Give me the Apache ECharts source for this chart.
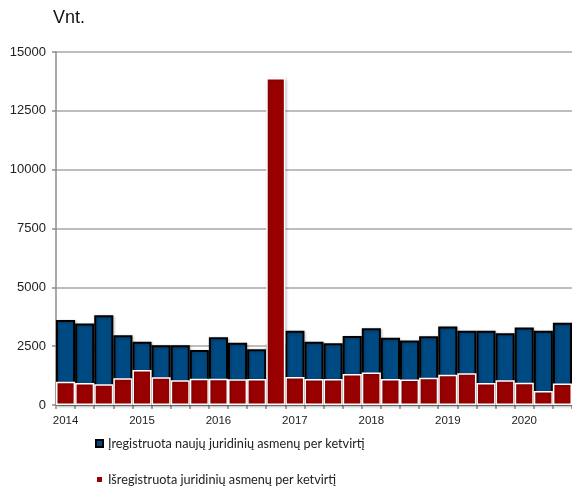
<!DOCTYPE html>
<html>
<head>
<meta charset="utf-8">
<script src="https://cdn.jsdelivr.net/npm/echarts@6/dist/echarts.min.js"></script>
<style>
html,body{margin:0;padding:0;background:#fff;}
#c{width:572px;height:488px;}
</style>
</head>
<body>
<div id="c"></div>
<script>
const quarters = [
  '2014 Q1','2014 Q2','2014 Q3','2014 Q4',
  '2015 Q1','2015 Q2','2015 Q3','2015 Q4',
  '2016 Q1','2016 Q2','2016 Q3','2016 Q4',
  '2017 Q1','2017 Q2','2017 Q3','2017 Q4',
  '2018 Q1','2018 Q2','2018 Q3','2018 Q4',
  '2019 Q1','2019 Q2','2019 Q3','2019 Q4',
  '2020 Q1','2020 Q2','2020 Q3'
];
const registered = [3610, 3460, 3810, 2960, 2690, 2540, 2540, 2340, 2880, 2650, 2370, 2600,
  3160, 2690, 2620, 2930, 3260, 2860, 2740, 2920, 3340, 3150, 3160, 3050, 3290, 3150, 3500];
const deregistered = [990, 940, 880, 1140, 1490, 1180, 1050, 1120, 1120, 1090, 1110, 13900,
  1190, 1110, 1110, 1320, 1380, 1110, 1080, 1160, 1290, 1350, 940, 1050, 950, 600, 910];
const seriesNames = ['Įregistruota naujų juridinių asmenų per ketvirtį', 'Išregistruota juridinių asmenų per ketvirtį'];
const unitLabel = 'Vnt.';

const legendText = {fontFamily: 'Lato', fontSize: 12.7, color: '#222'};
const chart = echarts.init(document.getElementById('c'), null, {renderer: 'canvas'});
chart.setOption({
  animation: false,
  backgroundColor: '#ffffff',
  title: {
    text: unitLabel, left: 48, top: 4,
    textStyle: {fontFamily: 'Liberation Sans', fontSize: 18, fontWeight: 'normal', color: '#111'}
  },
  legend: [
    {data: [seriesNames[0]], left: 90, top: 432, icon: 'rect', itemWidth: 7, itemHeight: 7,
      itemTextGap: 4, textStyle: legendText},
    {data: [seriesNames[1]], left: 90, top: 468, icon: 'rect', itemWidth: 7, itemHeight: 7,
      itemTextGap: 4, textStyle: legendText}
  ],
  grid: {left: 56, top: 52, bottom: 83, right: -8},
  xAxis: {
    type: 'category', data: quarters, boundaryGap: true,
    axisLine: {lineStyle: {color: '#8c8c8c', width: 1.5}},
    axisTick: {show: true, interval: 0, length: 4, lineStyle: {color: '#8c8c8c', width: 1.5}},
    axisLabel: {
      interval: 0, margin: 10,
      fontFamily: 'Liberation Sans', fontSize: 11.5, color: '#222',
      formatter: function (v, i) { return i % 4 === 0 ? v.slice(0, 4) : ''; }
    }
  },
  yAxis: {
    type: 'value', min: 0, max: 15000, interval: 2500,
    axisLine: {show: true, lineStyle: {color: '#8c8c8c', width: 1.5}},
    axisTick: {show: true, length: 4, lineStyle: {color: '#8c8c8c', width: 1.5}},
    splitLine: {lineStyle: {color: '#a8a8a8', width: 1.5}},
    axisLabel: {fontFamily: 'Liberation Sans', fontSize: 13, color: '#222', margin: 10,
      formatter: function (v) { return String(v); }}
  },
  series: [
    {
      name: seriesNames[0], type: 'bar', data: registered,
      barGap: '-100%', barCategoryGap: '0%',
      itemStyle: {color: '#004a83', borderColor: '#000', borderWidth: 2,
        shadowColor: 'rgba(0,0,0,0.25)', shadowBlur: 3, shadowOffsetX: 1, shadowOffsetY: 1}
    },
    {
      name: seriesNames[1], type: 'bar', data: deregistered,
      barGap: '-100%', barCategoryGap: '0%',
      itemStyle: {color: '#990000', borderColor: '#fff', borderWidth: 1.5,
        shadowColor: 'rgba(0,0,0,0.25)', shadowBlur: 3, shadowOffsetX: 1, shadowOffsetY: 1}
    }
  ]
});
</script>
</body>
</html>
